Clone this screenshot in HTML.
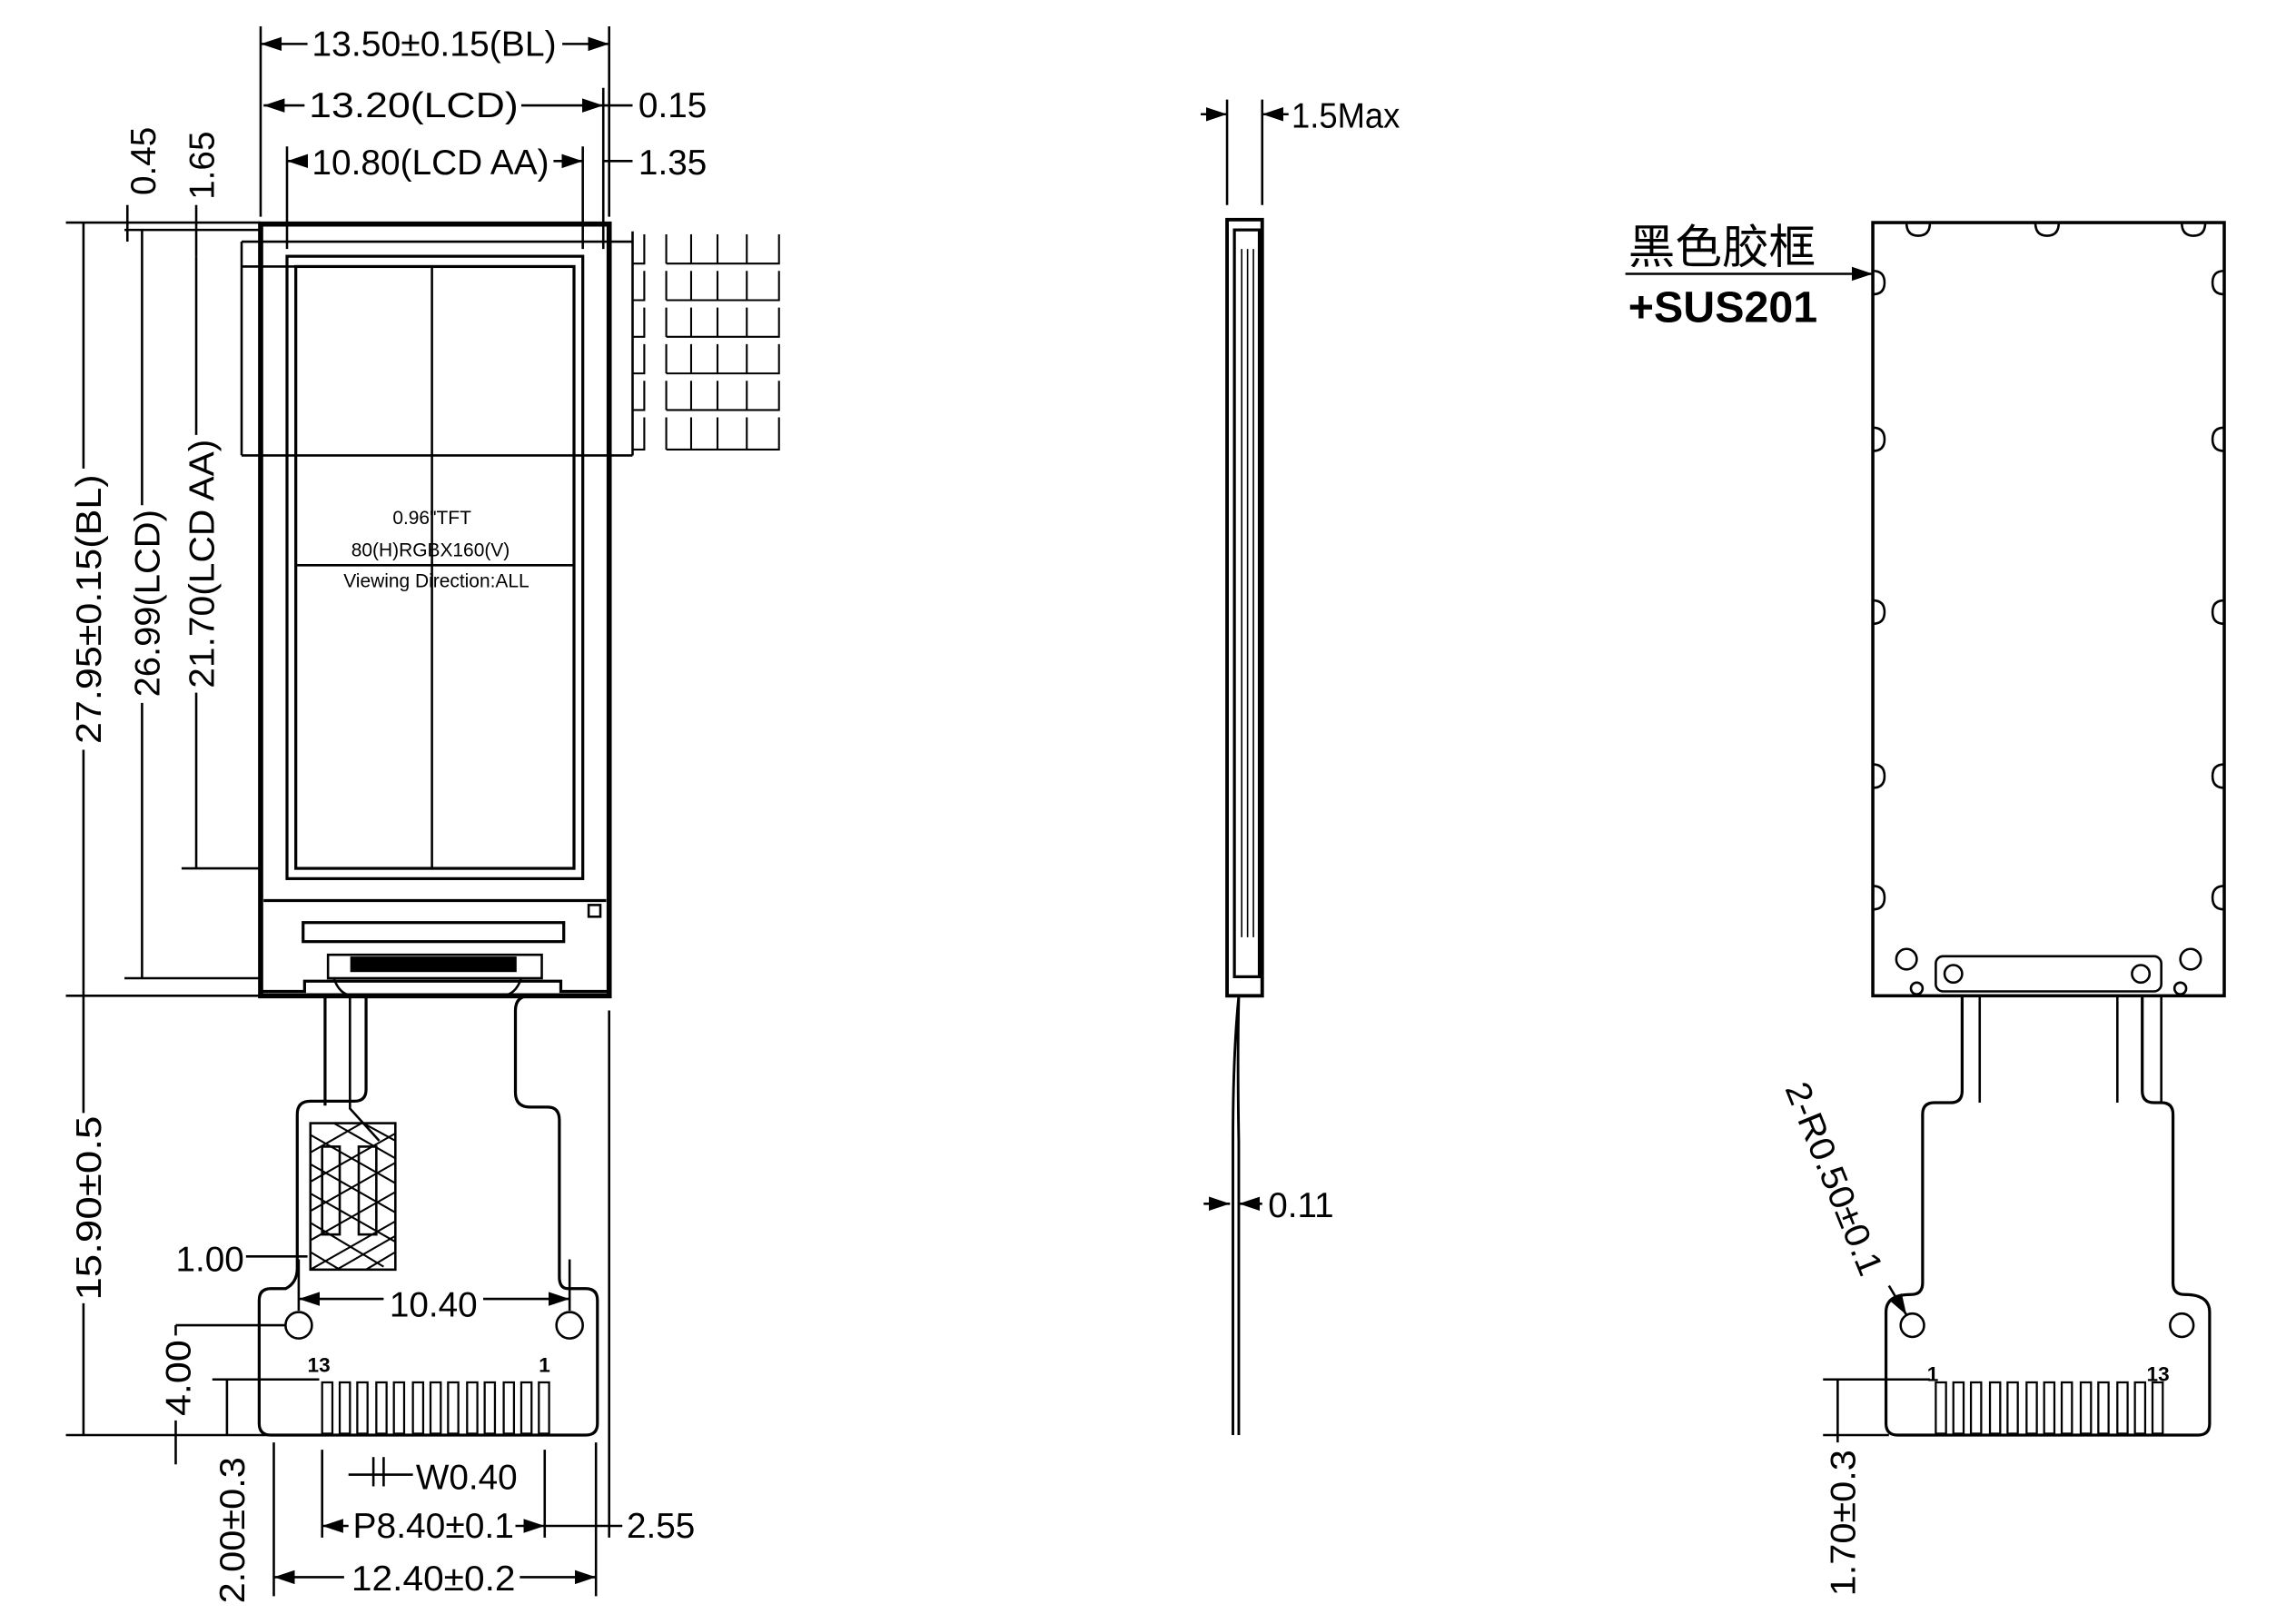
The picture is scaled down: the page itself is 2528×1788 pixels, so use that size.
<!DOCTYPE html>
<html><head><meta charset="utf-8"><style>
html,body{margin:0;padding:0;background:#fff}
svg{display:block}
text{font-family:"Liberation Sans","Noto Sans CJK SC",sans-serif;fill:#000}
.d{font-size:24px;font-family:"Liberation Sans Narrow","Liberation Sans",sans-serif}
</style></head><body>
<svg width="2528" height="1788" viewBox="0 0 1568 1109" preserveAspectRatio="none" xmlns="http://www.w3.org/2000/svg">
<defs><marker id="a" markerWidth="10" markerHeight="8" refX="9" refY="4" orient="auto-start-reverse"><path d="M0,1 L9,4 L0,7Z" fill="#000"/></marker></defs>
<g fill="none" stroke="#000" stroke-width="1.6">
<rect x="178" y="153" width="238" height="527" stroke-width="3.5"/>
<line x1="180" y1="615" x2="414" y2="615" stroke-width="2"/>
<rect x="196" y="175" width="202" height="425" stroke-width="2"/>
<rect x="202" y="182" width="190" height="411" stroke-width="2"/>
<line x1="295" y1="182" x2="295" y2="593"/>
<line x1="202" y1="386" x2="392" y2="386"/>
<line x1="165" y1="311" x2="432" y2="311"/>
<line x1="165" y1="165" x2="432" y2="165"/>
<line x1="165" y1="182" x2="202" y2="182"/>
<line x1="165" y1="165" x2="165" y2="311"/>
<line x1="432" y1="158" x2="432" y2="311"/>
<g stroke-width="1.3">
<path d="M440,160v20h-8M455,160v20M472,160v20h-17M490,160v20h-18M510,160v20h-20M532,160v20h-22"/>
<path d="M440,185v20h-8M455,185v20M472,185v20h-17M490,185v20h-18M510,185v20h-20M532,185v20h-22"/>
<path d="M440,210v20h-8M455,210v20M472,210v20h-17M490,210v20h-18M510,210v20h-20M532,210v20h-22"/>
<path d="M440,235v20h-8M455,235v20M472,235v20h-17M490,235v20h-18M510,235v20h-20M532,235v20h-22"/>
<path d="M440,260v20h-8M455,260v20M472,260v20h-17M490,260v20h-18M510,260v20h-20M532,260v20h-22"/>
<path d="M440,285v22h-8M455,285v22M472,285v22h-17M490,285v22h-18M510,285v22h-20M532,285v22h-22"/>
</g>
<rect x="207" y="630" width="178" height="13" stroke-width="2"/>
<rect x="402" y="618" width="8" height="8"/>
<rect x="224" y="652" width="146" height="16" stroke-width="1.6"/>
<rect x="240" y="654" width="112" height="9" fill="#000"/>
<path d="M178,677 h30 v-7 h175 v7 h33" stroke-width="2"/>
<path d="M228,668 q4,12 14,12 h100 q10,0 14,-12" />
<path d="M222,680 V755 M250,680 V744 q0,8 -8,8 h-30 q-9,0 -9,9 V866 q0,10 -8,14 h-10 q-8,0 -8,8 V972 q0,8 8,8 H400 q8,0 8,-8 V888 q0,-8 -8,-8 h-12 q-6,0 -6,-8 V765 q0,-9 -8,-9 h-12 q-10,0 -10,-10 V690 q0,-10 10,-10" stroke-width="2"/>
<path d="M239,680 V757 l20,22"/>
<rect x="212" y="767" width="58" height="100"/>
<path d="M212,787 l35,-20 M212,807 l58,-33 M212,827 l58,-33 M212,847 l58,-33 M212,867 l58,-33 M230,867 l40,-23 M250,867 l20,-12 M212,775 l58,33 M212,795 l58,33 M212,815 l58,33 M212,835 l50,30 M212,855 l20,12 M228,767 l42,24 M248,767 l22,12" stroke-width="1.3"/>
<rect x="220" y="783" width="12" height="60"/><rect x="245" y="783" width="12" height="60"/>
<circle cx="204" cy="905" r="9"/><circle cx="389" cy="905" r="9"/>
<g stroke-width="1.4">
<rect x="220" y="944" width="7" height="35"/><rect x="232" y="944" width="7" height="35"/><rect x="244" y="944" width="7" height="35"/><rect x="257" y="944" width="7" height="35"/><rect x="269" y="944" width="7" height="35"/><rect x="282" y="944" width="7" height="35"/><rect x="294" y="944" width="7" height="35"/><rect x="306" y="944" width="7" height="35"/><rect x="319" y="944" width="7" height="35"/><rect x="331" y="944" width="7" height="35"/><rect x="344" y="944" width="7" height="35"/><rect x="356" y="944" width="7" height="35"/><rect x="368" y="944" width="7" height="35"/>
</g>
<line x1="178" y1="18" x2="178" y2="148"/><line x1="416" y1="18" x2="416" y2="148"/>
<line x1="210" y1="30" x2="178" y2="30" marker-end="url(#a)"/><line x1="384" y1="30" x2="416" y2="30" marker-end="url(#a)"/>
<line x1="208" y1="72" x2="180" y2="72" marker-end="url(#a)"/><line x1="356" y1="72" x2="412" y2="72" marker-end="url(#a)"/><line x1="412" y1="72" x2="432" y2="72"/>
<line x1="196" y1="100" x2="196" y2="170"/><line x1="398" y1="100" x2="398" y2="170"/>
<line x1="208" y1="110" x2="196" y2="110" marker-end="url(#a)"/><line x1="378" y1="110" x2="398" y2="110" marker-end="url(#a)"/><line x1="412" y1="110" x2="432" y2="110"/>
<line x1="412" y1="60" x2="412" y2="170"/>
<line x1="45" y1="152" x2="178" y2="152"/><line x1="45" y1="680" x2="178" y2="680"/>
<line x1="57" y1="152" x2="57" y2="320"/><line x1="57" y1="512" x2="57" y2="680"/>
<line x1="85" y1="157" x2="178" y2="157"/><line x1="85" y1="668" x2="178" y2="668"/>
<line x1="97" y1="157" x2="97" y2="345"/><line x1="97" y1="480" x2="97" y2="668"/>
<line x1="124" y1="593" x2="178" y2="593"/>
<line x1="134" y1="175" x2="134" y2="297"/><line x1="134" y1="473" x2="134" y2="593"/>
<line x1="87" y1="140" x2="87" y2="165"/><line x1="134" y1="140" x2="134" y2="175"/>
<line x1="57" y1="680" x2="57" y2="760"/><line x1="57" y1="890" x2="57" y2="980"/>
<line x1="45" y1="980" x2="187" y2="980"/>
<line x1="120" y1="905" x2="195" y2="905"/><line x1="120" y1="905" x2="120" y2="912"/><line x1="120" y1="970" x2="120" y2="1000"/>
<line x1="145" y1="942" x2="218" y2="942"/><line x1="155" y1="942" x2="155" y2="980"/>
<line x1="168" y1="858" x2="210" y2="858"/>
<line x1="204" y1="860" x2="204" y2="895"/><line x1="389" y1="860" x2="389" y2="895"/>
<line x1="262" y1="887" x2="204" y2="887" marker-end="url(#a)"/><line x1="330" y1="887" x2="389" y2="887" marker-end="url(#a)"/>
<line x1="187" y1="985" x2="187" y2="1090"/><line x1="407" y1="985" x2="407" y2="1090"/>
<line x1="235" y1="1077" x2="187" y2="1077" marker-end="url(#a)"/><line x1="355" y1="1077" x2="407" y2="1077" marker-end="url(#a)"/>
<line x1="220" y1="990" x2="220" y2="1050"/><line x1="372" y1="990" x2="372" y2="1050"/>
<line x1="238" y1="1042" x2="220" y2="1042" marker-end="url(#a)"/><line x1="352" y1="1042" x2="372" y2="1042" marker-end="url(#a)"/>
<line x1="372" y1="1042" x2="425" y2="1042"/><line x1="416" y1="690" x2="416" y2="1050"/>
<line x1="255" y1="995" x2="255" y2="1015"/><line x1="262" y1="995" x2="262" y2="1015"/><line x1="238" y1="1007" x2="282" y2="1007"/>
<line x1="838" y1="68" x2="838" y2="140"/><line x1="862" y1="68" x2="862" y2="140"/>
<line x1="820" y1="78" x2="838" y2="78" marker-end="url(#a)"/><line x1="880" y1="78" x2="862" y2="78" marker-end="url(#a)"/>
<rect x="838" y="150" width="24" height="530" stroke-width="2.4"/>
<rect x="843" y="157" width="17" height="510" stroke-width="2"/>
<path d="M848,170 V640 M852,170 V640 M856,170 V640" stroke-width="1"/>
<path d="M846,680 q-4,40 -4,100 V980 M846,680 q-1,40 0,100 V980" stroke-width="1.8"/>
<line x1="822" y1="822" x2="840" y2="822" marker-end="url(#a)"/><line x1="862" y1="822" x2="846" y2="822" marker-end="url(#a)"/>
<rect x="1279" y="152" width="240" height="528" stroke-width="2.2"/>
<rect x="1322" y="653" width="154" height="24" rx="5"/>
<circle cx="1334" cy="665" r="6"/><circle cx="1462" cy="665" r="6"/>
<path d="M1340,680 V745 q0,8 -8,8 h-11 q-8,0 -8,8 V876 q0,8 -8,8 q-17,0 -17,12 V972 q0,8 8,8 H1501 q8,0 8,-8 V896 q0,-12 -17,-12 q-8,0 -8,-8 V761 q0,-8 -8,-8 h-5 q-8,0 -8,-8 V680" stroke-width="2"/>
<path d="M1352,680 V753 M1446,680 V753 M1476,680 V753"/>
<circle cx="1306" cy="905" r="8"/><circle cx="1490" cy="905" r="8"/>
<circle cx="1302" cy="655" r="7"/><circle cx="1496" cy="655" r="7"/>
<circle cx="1309" cy="675" r="4"/><circle cx="1489" cy="675" r="4"/>
<path d="M1302,152 q0,9 8,9 q8,0 8,-9 M1390,152 q0,9 8,9 q8,0 8,-9 M1490,152 q0,9 8,9 q8,0 8,-9"/>
<path d="M1279,185 q8,0 8,8 q0,8 -8,8 M1279,292 q8,0 8,8 q0,8 -8,8 M1279,410 q8,0 8,8 q0,8 -8,8 M1279,522 q8,0 8,8 q0,8 -8,8 M1279,605 q8,0 8,8 q0,8 -8,8"/>
<path d="M1519,185 q-8,0 -8,8 q0,8 8,8 M1519,292 q-8,0 -8,8 q0,8 8,8 M1519,410 q-8,0 -8,8 q0,8 8,8 M1519,522 q-8,0 -8,8 q0,8 8,8 M1519,605 q-8,0 -8,8 q0,8 8,8"/>
<g stroke-width="1.4">
<rect x="1322" y="944" width="7" height="35"/><rect x="1334" y="944" width="7" height="35"/><rect x="1346" y="944" width="7" height="35"/><rect x="1359" y="944" width="7" height="35"/><rect x="1371" y="944" width="7" height="35"/><rect x="1384" y="944" width="7" height="35"/><rect x="1396" y="944" width="7" height="35"/><rect x="1408" y="944" width="7" height="35"/><rect x="1421" y="944" width="7" height="35"/><rect x="1433" y="944" width="7" height="35"/><rect x="1446" y="944" width="7" height="35"/><rect x="1458" y="944" width="7" height="35"/><rect x="1470" y="944" width="7" height="35"/>
</g>
<line x1="1110" y1="187" x2="1279" y2="187" marker-end="url(#a)"/>
<line x1="1290" y1="878" x2="1302" y2="898" marker-end="url(#a)"/>
<line x1="1245" y1="942" x2="1318" y2="942"/><line x1="1255" y1="942" x2="1255" y2="985"/>
<line x1="1245" y1="980" x2="1290" y2="980"/>
</g>
<g class="d">
<text x="213" y="38" textLength="167" lengthAdjust="spacingAndGlyphs">13.50±0.15(BL)</text>
<text x="211" y="80" textLength="143" lengthAdjust="spacingAndGlyphs">13.20(LCD)</text>
<text x="436" y="80">0.15</text>
<text x="213" y="119" textLength="162" lengthAdjust="spacingAndGlyphs">10.80(LCD AA)</text>
<text x="436" y="119">1.35</text>
<text transform="translate(69,416) rotate(-90)" text-anchor="middle" textLength="184" lengthAdjust="spacingAndGlyphs">27.95±0.15(BL)</text>
<text transform="translate(109,412) rotate(-90)" text-anchor="middle" textLength="128" lengthAdjust="spacingAndGlyphs">26.99(LCD)</text>
<text transform="translate(146,385) rotate(-90)" text-anchor="middle" textLength="170" lengthAdjust="spacingAndGlyphs">21.70(LCD AA)</text>
<text transform="translate(106,110) rotate(-90)" text-anchor="middle">0.45</text>
<text transform="translate(146,113) rotate(-90)" text-anchor="middle">1.65</text>
<text transform="translate(69,825) rotate(-90)" text-anchor="middle" textLength="126" lengthAdjust="spacingAndGlyphs">15.90±0.5</text>
<text transform="translate(130,941) rotate(-90)" text-anchor="middle" textLength="52" lengthAdjust="spacingAndGlyphs">4.00</text>
<text transform="translate(167,1045) rotate(-90)" text-anchor="middle" textLength="100" lengthAdjust="spacingAndGlyphs">2.00±0.3</text>
<text x="120" y="868">1.00</text>
<text x="266" y="899">10.40</text>
<text x="284" y="1017">W0.40</text>
<text x="241" y="1050" textLength="110" lengthAdjust="spacingAndGlyphs">P8.40±0.1</text>
<text x="428" y="1050">2.55</text>
<text x="240" y="1086" textLength="112" lengthAdjust="spacingAndGlyphs">12.40±0.2</text>
<text x="882" y="87" textLength="74" lengthAdjust="spacingAndGlyphs">1.5Max</text>
<text x="866" y="831">0.11</text>
<text transform="translate(1267,1040) rotate(-90)" text-anchor="middle" textLength="100" lengthAdjust="spacingAndGlyphs">1.70±0.3</text>
<text transform="translate(1245,808) rotate(68)" text-anchor="middle" textLength="140" lengthAdjust="spacingAndGlyphs">2-R0.50±0.1</text>
</g>
<text x="295" y="358" font-size="13" text-anchor="middle">0.96"TFT</text>
<text x="294" y="380" font-size="13" text-anchor="middle">80(H)RGBX160(V)</text>
<text x="298" y="401" font-size="13" text-anchor="middle">Viewing Direction:ALL</text>
<text x="210" y="937" font-size="14" font-weight="bold" font-family="Liberation Serif">13</text>
<text x="368" y="937" font-size="14" font-weight="bold" font-family="Liberation Serif">1</text>
<text x="1316" y="943" font-size="14" font-weight="bold" font-family="Liberation Serif">1</text>
<text x="1466" y="943" font-size="14" font-weight="bold" font-family="Liberation Serif">13</text>
<text x="1112" y="180" font-size="32">黑色胶框</text>
<text x="1112" y="220" font-size="30" font-weight="bold">+SUS201</text>
</svg>
</body></html>
